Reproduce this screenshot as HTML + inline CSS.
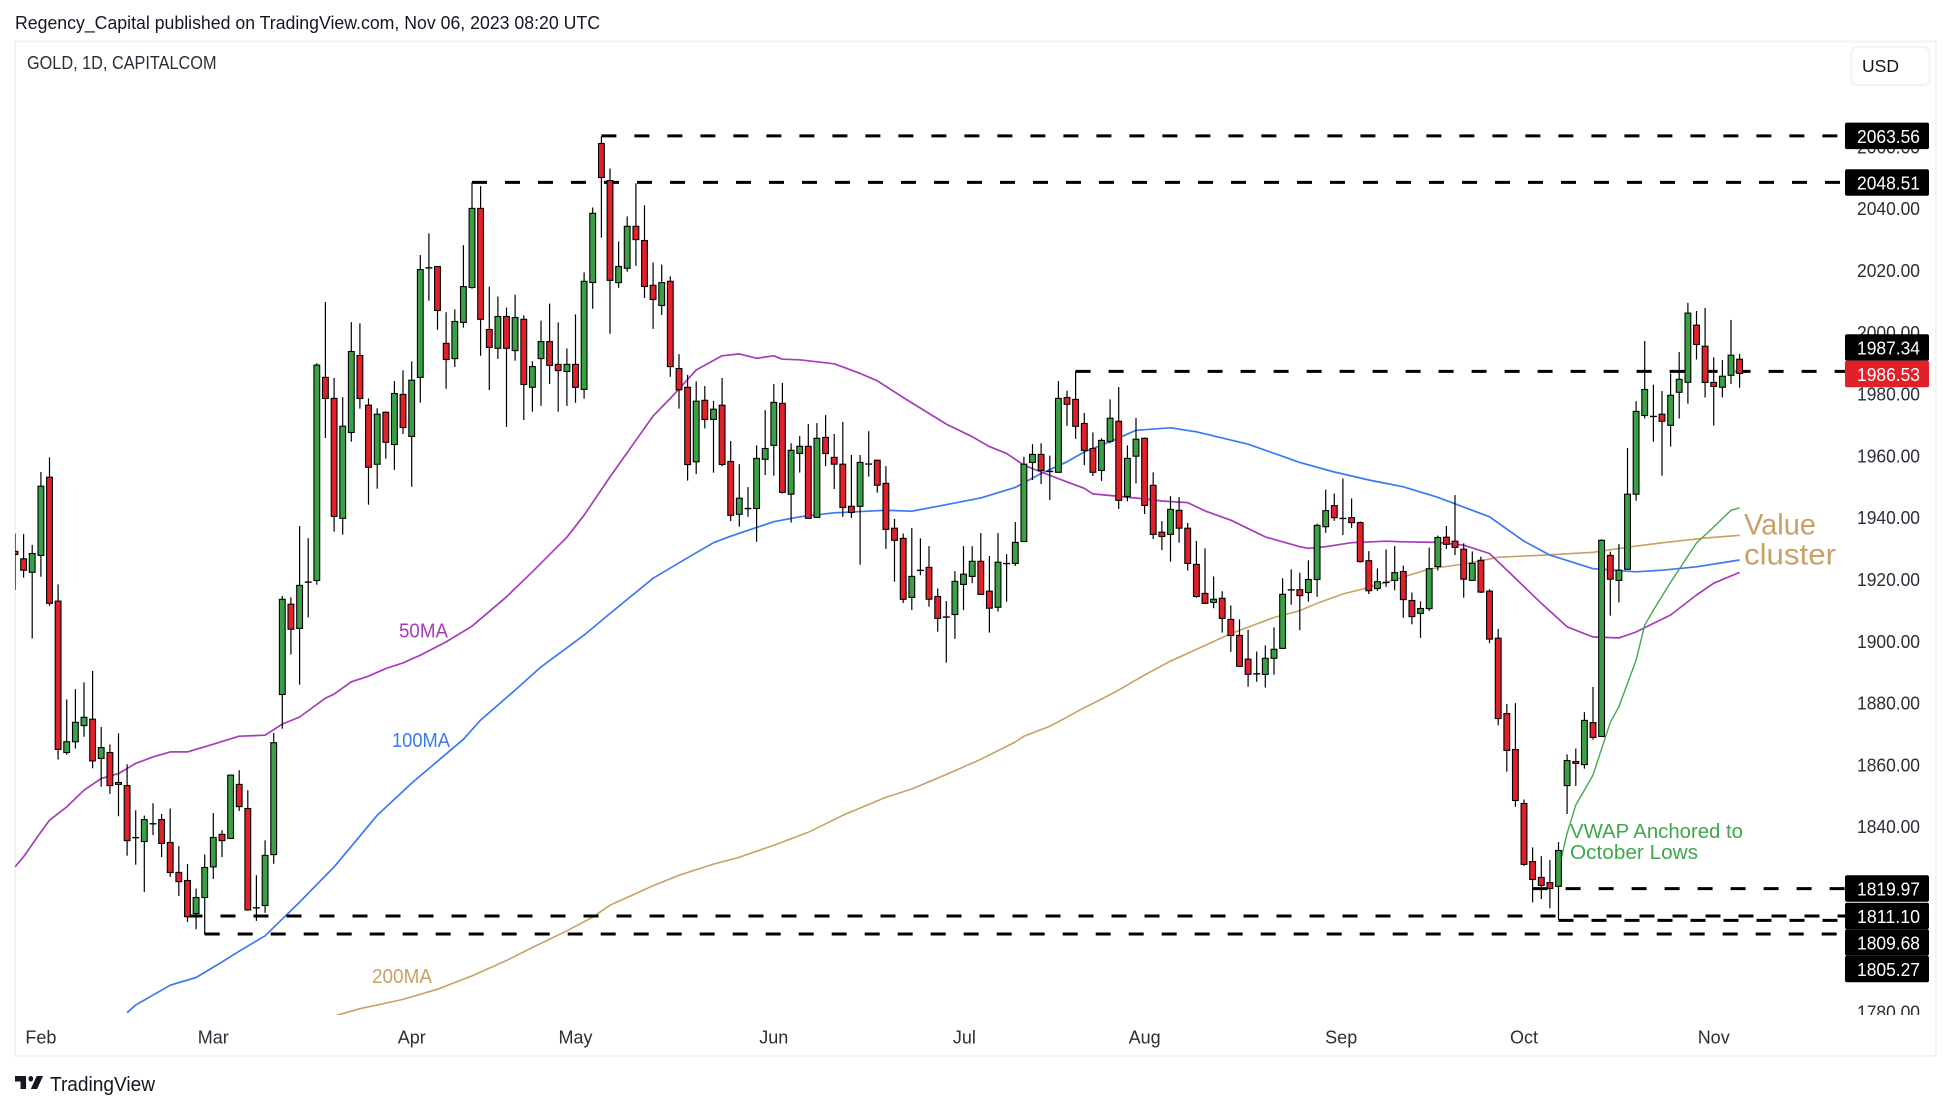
<!DOCTYPE html>
<html lang="en">
<head>
<meta charset="utf-8">
<title>GOLD, 1D, CAPITALCOM</title>
<style>
html,body{margin:0;padding:0;background:#fff;}
svg{display:block;font-family:"Liberation Sans",sans-serif;}
</style>
</head>
<body>
<svg id="chart" xmlns="http://www.w3.org/2000/svg" width="1950" height="1110" viewBox="0 0 1950 1110">
  <defs>
    <clipPath id="plot-clip"><rect x="15" y="42" width="1920" height="973"/></clipPath>
  </defs>
  <rect x="0" y="0" width="1950" height="1110" fill="#ffffff"/>
  <text x="15" y="29" font-size="18" fill="#131722" textLength="585" lengthAdjust="spacingAndGlyphs">Regency_Capital published on TradingView.com, Nov 06, 2023 08:20 UTC</text>
  <rect x="15" y="41.5" width="1921" height="1014.5" fill="none" stroke="#f0f3fa" stroke-width="2"/>
  <text x="27" y="69" font-size="18" fill="#2a2e39" textLength="189.5" lengthAdjust="spacingAndGlyphs">GOLD, 1D, CAPITALCOM</text>
  <g id="tick-layer"></g>
  <g id="month-layer"></g>
  <g id="ma-layer" clip-path="url(#plot-clip)"></g>
  <g id="level-layer"></g>
  <g id="candle-layer" clip-path="url(#plot-clip)"></g>
  <g id="label-layer"></g>
  <text x="399" y="637.5" font-size="20" fill="#a63cba" textLength="49" lengthAdjust="spacingAndGlyphs">50MA</text>
  <text x="392" y="752" font-size="20" fill="#3b78f5" textLength="58" lengthAdjust="spacingAndGlyphs" transform="translate(0,-5)">100MA</text>
  <text x="372" y="983" font-size="20" fill="#c8a165" textLength="60" lengthAdjust="spacingAndGlyphs">200MA</text>
  <text x="1744" y="534.5" font-size="30" fill="#c8a165" textLength="72" lengthAdjust="spacingAndGlyphs">Value</text>
  <text x="1744" y="564.5" font-size="30" fill="#c8a165" textLength="92" lengthAdjust="spacingAndGlyphs">cluster</text>
  <text x="1570" y="838" font-size="20" fill="#3fa64c" textLength="173" lengthAdjust="spacingAndGlyphs">VWAP Anchored to</text>
  <text x="1570" y="859" font-size="20" fill="#3fa64c" textLength="128" lengthAdjust="spacingAndGlyphs">October Lows</text>
  <g>
    <rect x="1851.5" y="47" width="78" height="38" rx="6" fill="#ffffff" stroke="#f0f3fa" stroke-width="2"/>
    <text x="1880.5" y="72" font-size="17.5" fill="#131722" text-anchor="middle">USD</text>
  </g>
  <g>
    <g transform="translate(15,1070.4) scale(0.79,0.93)" fill="#131722">
      <path d="M14 6H0v6h7v8h7V6Z"/>
      <circle cx="20" cy="9" r="3"/>
      <path d="M28 20h-8l7.5-14h8L28 20Z"/>
    </g>
    <text x="50" y="1091" font-size="20" fill="#131722" textLength="105" lengthAdjust="spacingAndGlyphs">TradingView</text>
  </g>
</svg>
<script>
var opens=[1929.1,1926.7,1922.3,1927.8,1953.1,1913.0,1864.0,1867.5,1872.7,1874.8,
1862.1,1864.0,1853.7,1853.3,1836.5,1835.2,1841.0,1842.3,1834.9,1825.2,
1822.6,1811.9,1817.1,1827.0,1837.5,1836.2,1853.7,1845.9,1813.8,1814.5,
1831.0,1882.8,1912.0,1904.2,1919.2,1919.7,1985.4,1978.6,1939.8,1967.6,
1992.5,1976.4,1957.3,1974.1,1963.7,1979.9,1966.3,1985.4,2020.9,2021.3,
1996.4,1991.5,2003.2,2014.5,2040.1,2000.9,1994.8,2005.1,1994.1,2004.2,
1982.2,1991.5,1997.0,1989.6,1987.3,1989.6,1981.5,2016.1,2061.1,2049.1,
2016.1,2020.7,2034.3,2029.7,2015.2,2008.7,2016.5,1988.3,1982.2,1958.1,
1978.0,1971.8,1976.4,1958.2,1941.1,1943.0,1943.0,1958.9,1963.4,1977.0,
1947.6,1960.8,1963.1,1940.1,1966.0,1959.5,1957.3,1943.7,1943.7,1957.4,
1958.6,1951.1,1936.6,1933.3,1914.2,1923.0,1923.9,1914.5,1907.9,1908.7,
1918.4,1921.0,1925.9,1916.2,1911.0,1925.2,1925.2,1932.3,1957.9,1960.5,
1955.0,1954.7,1978.9,1978.3,1970.5,1962.4,1955.3,1964.7,1971.2,1946.9,
1959.9,1965.7,1950.5,1935.3,1934.6,1942.4,1936.6,1924.9,1915.5,1912.6,
1913.9,1907.1,1901.9,1894.2,1889.5,1889.3,1894.5,1897.7,1916.7,1916.7,
1915.8,1920.0,1937.1,1943.9,1939.8,1940.0,1938.4,1926.1,1917.1,1919.1,
1919.7,1922.6,1913.2,1909.0,1910.6,1924.2,1933.7,1932.4,1929.8,1919.7,
1926.2,1916.2,1901.0,1876.6,1865.0,1847.5,1828.7,1823.6,1821.9,1820.7,
1853.3,1861.1,1860.1,1873.7,1869.2,1927.8,1919.7,1923.3,1947.6,1973.1,
1972.8,1973.5,1969.9,1980.6,1983.8,2002.3,1995.5,1983.8,1982.2,1986.1,
1991.3];
var highs=[1934.9,1934.7,1931.2,1954.8,1959.5,1918.4,1881.2,1884.5,1886.7,1890.4,
1872.3,1866.6,1870.2,1860.2,1845.3,1843.6,1847.6,1844.1,1845.9,1833.7,
1827.9,1820.0,1831.0,1844.4,1838.9,1856.9,1858.3,1851.8,1824.3,1835.6,
1870.4,1914.7,1914.2,1937.3,1933.4,1990.0,2009.8,1985.2,1979.0,2003.3,
2002.9,1978.6,1975.4,1974.4,1984.2,1987.7,1990.6,2025.0,2032.0,2021.5,
2006.5,2007.4,2028.2,2048.5,2047.3,2014.8,2011.6,2008.0,2012.2,2005.5,
1990.6,2003.8,2009.3,2003.2,1994.8,2005.8,2019.4,2040.4,2063.4,2053.0,
2029.4,2037.5,2048.2,2041.1,2022.6,2021.9,2018.1,1992.9,1986.2,1984.1,
1982.6,1977.8,1985.2,1964.8,1957.3,1949.9,1963.4,1974.8,1983.3,1983.6,
1964.1,1966.4,1970.3,1970.6,1973.2,1967.1,1971.0,1960.3,1960.3,1968.0,
1958.7,1956.7,1939.6,1934.9,1936.7,1933.3,1930.8,1917.1,1913.0,1922.7,
1930.8,1930.8,1935.0,1927.6,1935.0,1928.2,1938.6,1959.7,1963.8,1964.1,
1960.1,1984.2,1981.1,1987.4,1973.9,1967.6,1965.7,1978.3,1982.3,1963.4,
1972.3,1966.0,1954.7,1938.9,1947.0,1946.7,1938.3,1932.5,1930.1,1921.0,
1916.2,1911.6,1907.1,1903.7,1896.7,1898.7,1904.5,1920.4,1923.3,1922.2,
1926.2,1938.1,1949.1,1947.8,1952.7,1946.2,1938.8,1929.2,1923.6,1929.7,
1930.8,1924.5,1915.8,1912.9,1930.3,1934.2,1937.3,1947.3,1931.7,1929.1,
1927.4,1916.9,1904.0,1879.7,1880.0,1848.8,1833.3,1830.5,1829.2,1835.0,
1863.4,1865.3,1877.1,1885.2,1933.0,1929.0,1931.5,1962.6,1977.7,1997.2,
1983.0,1981.0,1986.7,1993.6,2009.5,2006.9,2007.9,1991.9,1991.0,2004.0,
1993.0];
var lows=[1916.6,1920.6,1900.9,1920.9,1911.5,1861.7,1863.3,1865.3,1869.1,1858.9,
1852.9,1850.6,1843.4,1830.6,1827.7,1818.9,1837.3,1830.2,1823.8,1817.6,
1809.2,1806.8,1805.1,1823.1,1830.2,1836.0,1845.1,1812.8,1809.5,1812.1,
1828.0,1871.7,1895.7,1886.0,1907.7,1918.3,1965.8,1935.5,1934.5,1964.6,
1975.3,1944.2,1949.4,1959.1,1955.5,1967.1,1950.0,1977.2,2010.2,2000.8,
1981.7,1988.8,2001.5,2014.1,1992.4,1981.3,1991.4,1969.4,1990.8,1971.6,
1974.3,1976.2,1983.3,1974.3,1976.2,1977.2,1978.5,2007.6,2030.6,1999.5,
2014.4,2019.6,2021.5,2011.1,2001.1,2005.6,1985.6,1975.3,1952.0,1954.1,
1968.9,1954.6,1956.7,1938.9,1937.1,1940.3,1932.2,1953.8,1953.6,1947.8,
1938.4,1954.6,1939.6,1939.9,1956.7,1949.3,1940.3,1939.9,1924.8,1953.3,
1948.1,1929.9,1919.3,1912.4,1910.1,1921.4,1911.2,1903.1,1893.1,1900.8,
1910.1,1918.8,1915.1,1902.8,1909.6,1912.8,1924.4,1932.2,1952.2,1950.9,
1945.7,1954.6,1969.7,1965.5,1957.0,1953.5,1951.9,1964.1,1942.8,1945.3,
1951.1,1941.2,1933.1,1929.5,1925.8,1931.9,1922.9,1914.1,1912.1,1910.7,
1902.8,1896.6,1891.8,1885.3,1886.9,1885.0,1889.2,1897.6,1911.8,1903.6,
1912.8,1914.4,1935.1,1939.0,1934.4,1936.7,1925.4,1915.3,1916.3,1917.6,
1916.5,1907.6,1905.5,1901.1,1909.8,1922.9,1929.9,1927.9,1914.1,1919.6,
1915.6,1899.4,1872.8,1857.8,1846.4,1827.3,1815.5,1816.6,1813.6,1809.8,
1844.1,1853.2,1858.8,1868.2,1869.0,1908.3,1912.6,1923.2,1945.5,1972.1,
1964.6,1953.6,1963.0,1972.1,1976.9,1991.2,1978.9,1969.8,1978.9,1983.3,
1982.1];
var closes=[1928.1,1923.0,1928.4,1950.2,1912.3,1865.0,1867.5,1873.8,1875.4,1861.3,
1865.6,1853.3,1854.3,1835.5,1836.4,1842.3,1840.9,1834.6,1825.2,1822.2,
1810.9,1817.1,1826.8,1836.5,1835.5,1856.7,1846.5,1813.1,1813.7,1830.7,
1867.2,1913.6,1903.9,1918.1,1919.1,1989.4,1978.6,1940.4,1969.6,1993.8,
1978.6,1956.3,1973.5,1964.4,1980.2,1969.2,1984.5,2020.3,2020.8,2007.1,
1991.2,2003.5,2014.8,2040.1,2004.2,1995.1,2005.1,1994.8,2004.8,1983.1,
1988.9,1997.0,1989.3,1987.6,1989.6,1982.2,2016.5,2038.5,2050.1,2016.8,
2021.3,2034.3,2030.0,2014.8,2010.6,2016.1,1988.9,1981.4,1957.2,1977.7,
1971.8,1975.1,1957.2,1940.8,1946.3,1942.9,1959.2,1962.4,1977.3,1948.2,
1961.8,1963.1,1939.8,1965.7,1960.8,1957.3,1943.3,1941.7,1957.9,1957.3,
1950.5,1936.2,1932.7,1913.6,1921.0,1922.9,1913.6,1907.4,1907.8,1919.4,
1921.7,1925.9,1915.2,1910.7,1925.6,1925.1,1932.0,1957.3,1960.5,1955.3,
1954.9,1978.6,1976.7,1969.6,1961.8,1954.7,1965.0,1972.2,1945.6,1959.2,
1965.4,1944.0,1934.6,1933.9,1942.7,1936.6,1925.2,1914.5,1912.3,1913.6,
1907.4,1901.9,1891.9,1889.3,1889.4,1894.5,1897.4,1915.2,1916.6,1914.8,
1920.0,1937.5,1942.3,1940.0,1939.7,1938.4,1925.8,1916.4,1919.3,1919.0,
1922.2,1913.5,1908.0,1910.6,1923.5,1933.6,1931.4,1930.4,1920.1,1925.2,
1915.9,1900.7,1875.0,1864.7,1848.5,1827.8,1822.9,1821.0,1820.0,1832.3,
1861.4,1860.5,1874.4,1868.9,1932.7,1920.1,1923.0,1947.6,1974.4,1981.5,
1972.7,1971.2,1979.6,1984.8,2006.2,1996.1,1983.8,1982.5,1985.8,1992.6,
1986.7];

var ma50Bars=[0,1,3,4,6,8,10,12,14,16,18,20,23,26,29,31,33,36,37,39,41,43,45,47,50,53,57,60,64,66,69,74,76,79,82,84,86,88,89,91,95,96,98,100,103,108,111,113,115,117,119,122,124,125,127,131,133,136,138,141,145,149,150,152,155,159,161,165,168,171,174,177,180,183,186,188,190,192,195,197,200];
var ma50Values=[1827.0,1830.3,1838.3,1842.1,1846.4,1851.8,1855.6,1857.2,1860.5,1862.6,1864.2,1864.2,1866.7,1869.3,1869.6,1873.2,1875.5,1881.6,1882.9,1886.9,1888.7,1891.2,1893.0,1895.5,1899.8,1904.9,1914.4,1922.5,1933.7,1940.8,1953.2,1972.9,1978.6,1987.8,1992.4,1993.0,1991.6,1992.4,1991.3,1991.1,1989.8,1988.8,1986.7,1984.3,1978.9,1970.3,1966.2,1963.0,1960.8,1957.0,1954.8,1951.6,1949.5,1947.7,1947.2,1946.1,1945.4,1944.9,1942.2,1939.2,1933.8,1930.6,1930.1,1930.6,1931.9,1932.4,1932.2,1932.0,1931.1,1928.4,1920.4,1912.3,1904.7,1901.4,1901.1,1903.0,1905.8,1908.5,1915.0,1918.8,1922.3];
var ma100Bars=[13,14,18,21,24,26,29,33,37,42,46,52,54,58,61,66,69,74,77,81,83,88,91,95,101,104,107,112,116,119,122,124,127,130,134,137,143,149,153,157,161,165,171,175,178,183,188,191,195,200];
var ma100Values=[1779.8,1782.3,1788.7,1791.2,1796.2,1799.7,1804.7,1815.6,1827.0,1843.7,1854.1,1868.3,1874.5,1884.2,1891.7,1902.0,1909.0,1920.4,1925.4,1931.9,1934.0,1938.7,1940.3,1941.6,1942.4,1942.1,1943.7,1946.4,1949.8,1954.3,1958.1,1961.3,1964.6,1968.3,1969.1,1967.8,1963.8,1957.9,1954.8,1952.2,1950.0,1946.6,1940.3,1932.4,1927.9,1923.5,1922.5,1923.0,1924.1,1926.3];
var ma200Bars=[37,40,45,49,53,57,60,64,67,69,74,77,81,84,88,92,96,101,104,108,112,116,117,120,124,126,128,131,134,136,141,146,149,151,154,157,161,164,168,172,178,183,188,192,196,200];
var ma200Values=[1778.7,1781.1,1784.1,1787.4,1791.7,1796.7,1800.9,1806.3,1810.7,1814.6,1820.9,1824.3,1827.9,1830.1,1834.0,1838.2,1843.7,1849.5,1852.2,1856.9,1861.8,1867.4,1869.3,1872.5,1878.5,1881.3,1884.2,1889.1,1893.6,1896.1,1902.5,1907.7,1909.9,1912.3,1915.3,1917.4,1920.8,1923.4,1925.0,1927.2,1928.0,1928.8,1930.8,1932.2,1933.4,1934.3];
var vwapBars=[179,180,181,183,185,186,188,189,190,192,195,197,199,200];
var vwapValues=[1826.0,1837.9,1847.0,1856.7,1873.8,1878.8,1893.9,1905.2,1910.1,1919.1,1931.8,1937.0,1942.4,1943.2];

var priceTicks=[2060,2040,2020,2000,1980,1960,1940,1920,1900,1880,1860,1840,1780];
var monthLabels=["Feb","Mar","Apr","May","Jun","Jul","Aug","Sep","Oct","Nov"];
var monthBars=[3,23,46,65,88,110.1,131,153.8,175,197];
var levelPrices=[2063.56,2048.51,1987.34,1819.97,1811.10,1809.68,1805.27];
var levelStartBars=[68,53,123,176,20,179,22];
var lastPrice=1986.53;

function xScale(bar){return 15+8.623*bar;}
function yScale(price){return 208.7+(2040-price)*3.09;}
var SVGNS="http://www.w3.org/2000/svg";
function make(tag,parentId){
  var el=document.createElementNS(SVGNS,tag);
  document.getElementById(parentId).appendChild(el);
  return el;
}
function drawLine(bars,values,color,width,name){
  var pts=[];
  for(var i=0;i<bars.length;i++){pts.push(xScale(bars[i]).toFixed(1)+","+yScale(values[i]).toFixed(1));}
  var el=make("polyline","ma-layer");
  
  
  el.setAttribute("points",pts.join(" "));
  el.setAttribute("fill","none");
  el.setAttribute("stroke",color);
  el.setAttribute("stroke-width",width);
  el.setAttribute("stroke-linejoin","round");
}

priceTicks.forEach(function(p){
  var t=make("text","tick-layer");
  
  
  t.setAttribute("x",1920);
  t.setAttribute("y",(yScale(p)+6.5).toFixed(1));
  t.setAttribute("font-size","18");
  t.setAttribute("fill","#2a2e39");
  t.setAttribute("text-anchor","end");
  t.setAttribute("textLength","63");
  t.setAttribute("lengthAdjust","spacingAndGlyphs");
  if(p===1780){t.setAttribute("clip-path","url(#plot-clip)");}
  t.textContent=p.toFixed(2);
});

monthLabels.forEach(function(m,i){
  var t=make("text","month-layer");
  
  
  t.setAttribute("x",xScale(monthBars[i]).toFixed(1));
  t.setAttribute("y",1043.5);
  t.setAttribute("font-size","18");
  t.setAttribute("fill","#2a2e39");
  t.setAttribute("text-anchor","middle");
  t.textContent=m;
});

drawLine(ma200Bars,ma200Values,"#c8a165","1.6","ma200-line");
drawLine(ma100Bars,ma100Values,"#3b78f5","1.7","ma100-line");
drawLine(ma50Bars,ma50Values,"#a63cba","1.7","ma50-line");
drawLine(vwapBars,vwapValues,"#43a84f","1.4","vwap-line");

levelPrices.forEach(function(p,i){
  var l=make("line","level-layer");
  
  
  l.setAttribute("x1",xScale(levelStartBars[i]).toFixed(1));
  l.setAttribute("x2",1845);
  l.setAttribute("y1",yScale(p).toFixed(1));
  l.setAttribute("y2",yScale(p).toFixed(1));
  l.setAttribute("stroke","#000000");
  l.setAttribute("stroke-width","3");
  l.setAttribute("stroke-dasharray","15 18");
});

opens.forEach(function(openValue,b){
  var closeValue=closes[b];
  var cx=xScale(b);
  var wick=make("line","candle-layer");
  
  
  wick.setAttribute("x1",cx.toFixed(1));
  wick.setAttribute("x2",cx.toFixed(1));
  wick.setAttribute("y1",yScale(highs[b]).toFixed(1));
  wick.setAttribute("y2",yScale(lows[b]).toFixed(1));
  wick.setAttribute("stroke","#000000");
  wick.setAttribute("stroke-width","1.2");
  var bodyHigh=Math.max(openValue,closeValue);
  var bodyLow=Math.min(openValue,closeValue);
  var candleBody=make("rect","candle-layer");
  
  
  candleBody.setAttribute("x",(cx-2.9).toFixed(1));
  candleBody.setAttribute("y",yScale(bodyHigh).toFixed(1));
  candleBody.setAttribute("width","5.8");
  candleBody.setAttribute("height",(yScale(bodyLow)-yScale(bodyHigh)).toFixed(1));
  candleBody.setAttribute("fill",closeValue>=openValue?"#3a9f45":"#e2202a");
  candleBody.setAttribute("stroke","#000000");
  candleBody.setAttribute("stroke-width","1.1");
});

var labelItems=levelPrices.map(function(p){return {price:p,last:false};});
labelItems.push({price:lastPrice,last:true});
labelItems.sort(function(a,c){return c.price-a.price;});
var labelHeight=26.5;
labelItems.forEach(function(item,k){
  item.boxTop=yScale(item.price)-labelHeight/2;
  if(k>0){
    var prev=labelItems[k-1];
    if(item.boxTop<prev.boxTop+labelHeight){
      if(item.last){prev.boxTop=item.boxTop-labelHeight;}
      else{item.boxTop=prev.boxTop+labelHeight;}
    }
  }
});
labelItems.forEach(function(item){
  var box=make("rect","label-layer");
  
  
  box.setAttribute("x",1845);
  box.setAttribute("y",item.boxTop.toFixed(1));
  box.setAttribute("width",84);
  box.setAttribute("height",labelHeight);
  box.setAttribute("rx",2);
  box.setAttribute("fill",item.last?"#e2202a":"#000000");
  var t=make("text","label-layer");
  
  
  t.setAttribute("x",1920);
  t.setAttribute("y",(item.boxTop+labelHeight/2+7).toFixed(1));
  t.setAttribute("font-size","18");
  t.setAttribute("fill","#ffffff");
  t.setAttribute("text-anchor","end");
  t.setAttribute("textLength","63");
  t.setAttribute("lengthAdjust","spacingAndGlyphs");
  t.textContent=item.price.toFixed(2);
});
</script>
</body>
</html>
